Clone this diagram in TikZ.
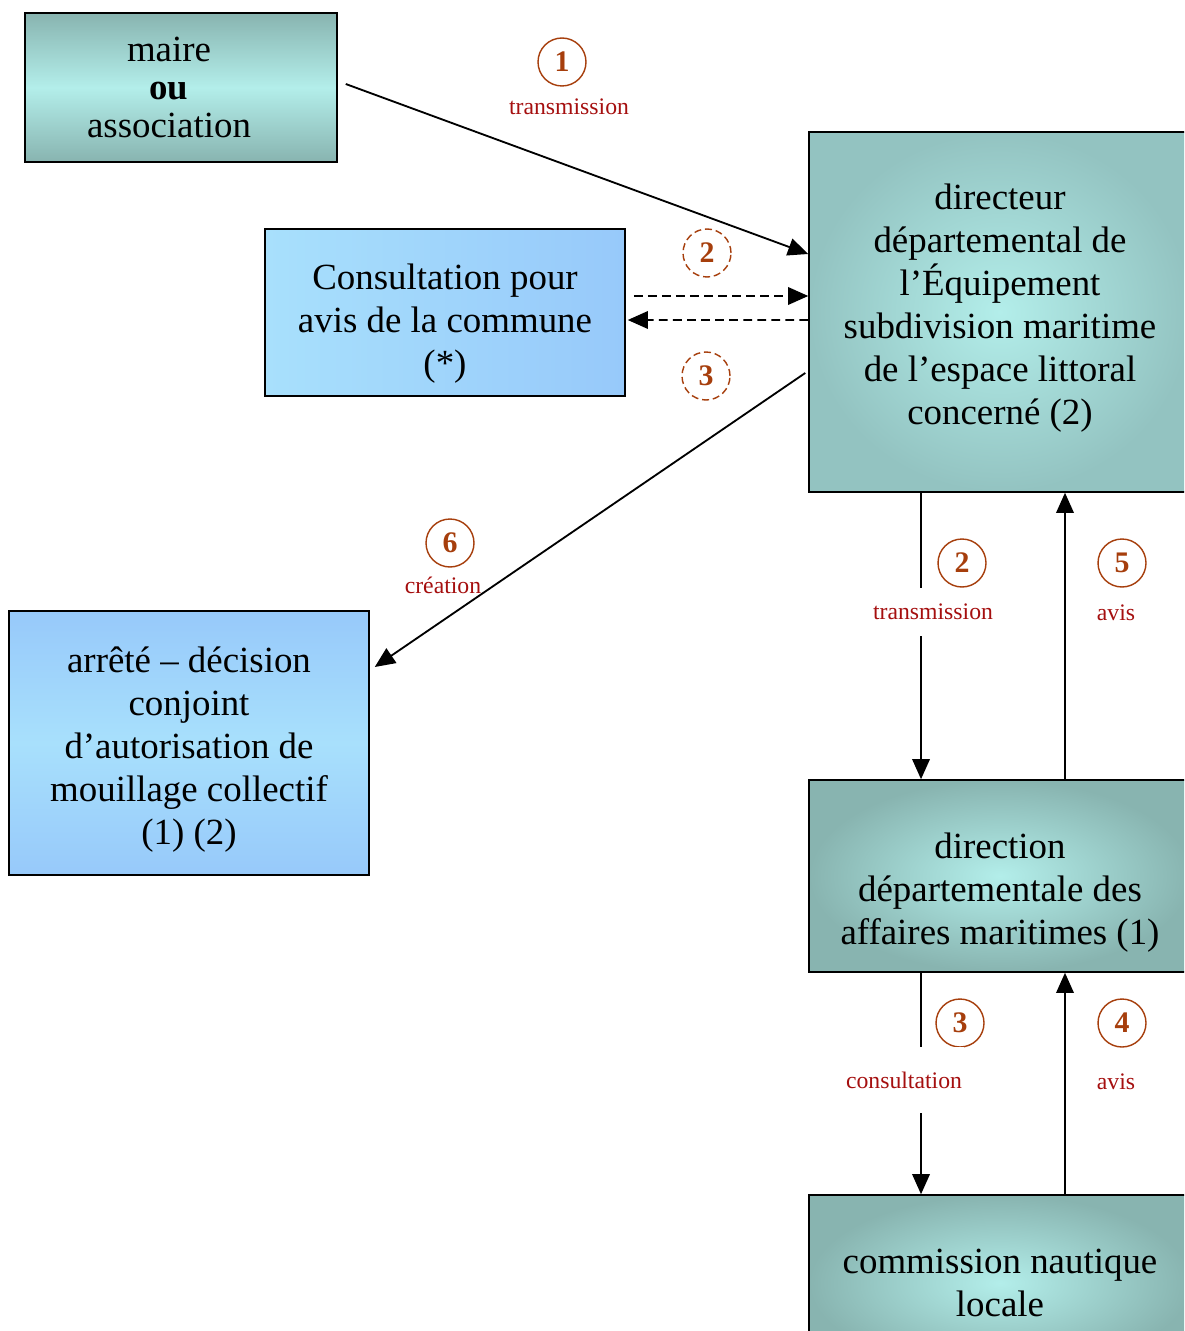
\documentclass[tikz,border=0pt]{standalone}
\usepackage{fontspec}
\setmainfont{Liberation Serif}
\usepackage{tikz}
\usepackage{xcolor}
\usetikzlibrary{arrows.meta}

\definecolor{tealdark}{HTML}{88B4B0}
\definecolor{teallight}{HTML}{B3EEEA}
\definecolor{tealout}{HTML}{93C3C1}
\definecolor{bluelight}{HTML}{A8E0FC}
\definecolor{bluedark}{HTML}{97C9FA}
\definecolor{numcol}{HTML}{A63E0C}
\definecolor{lblcol}{HTML}{A50F0F}

% espace invisible pour decaler le texte dans une boite
\newcommand{\haut}[1]{\rule{0pt}{#1}}
\newcommand{\bas}[1]{\rule[-#1]{0pt}{#1}}
\newcommand{\gauche}[1]{\mbox{#1\hspace{0.48cm}}}

\begin{document}
\begin{tikzpicture}[x=0.02cm,y=-0.02cm,>={Triangle[length=11.5pt,width=10pt]},
    box/.style={draw,line width=0.9pt,align=center,inner sep=0pt,
        font=\fontsize{21}{24.5}\selectfont},
    num/.style={circle,draw=numcol,text=numcol,line width=0.8pt,
        minimum size=0.96cm,inner sep=0pt,font=\fontsize{17}{17}\selectfont\bfseries},
    numdash/.style={num,dash pattern=on 4pt off 2.2pt},
    lbl/.style={text=lblcol,inner sep=1pt,font=\fontsize{13.5}{14}\selectfont},
    link/.style={->,line width=1.05pt},
    linkdash/.style={link,dash pattern=on 5pt off 3pt}]
    \useasboundingbox (0,0) rectangle (1184,1331);
    \clip (0,0) rectangle (1184,1331);

    % boites
    \node[box,minimum width=6.24cm,minimum height=2.98cm,
        top color=tealdark,bottom color=tealdark,middle color=teallight]
        (maire) at (181,87.5) {\gauche{maire}\\[-3pt]\gauche{\bfseries ou}\\[-3pt]\gauche{association}};
    \node[box,minimum width=7.2cm,minimum height=3.34cm,
        left color=bluelight,right color=bluedark]
        (cons) at (445,312.5) {\haut{26.8pt}Consultation pour\\avis de la commune\\(*)};
    \node[box,minimum width=7.2cm,minimum height=5.28cm,
        top color=bluedark,bottom color=bluedark,middle color=bluelight]
        (arr) at (189,743) {\haut{22pt}arrêté -- décision\\conjoint\\d’autorisation de\\mouillage collectif\\(1) (2)};
    \node[box,minimum width=7.64cm,minimum height=7.2cm,
        inner color=teallight,outer color=tealout]
        (dir) at (1000,312) {directeur\\départemental de\\l’Équipement\\subdivision maritime\\de l’espace littoral\\concerné (2)\bas{9pt}};
    \node[box,minimum width=7.64cm,minimum height=3.84cm,
        inner color=teallight,outer color=tealdark]
        (dn) at (1000,876) {\haut{33.6pt}direction\\départementale des\\affaires maritimes (1)};
    \node[box,minimum width=7.64cm,minimum height=3.52cm,
        inner color=teallight,outer color=tealdark]
        (cnl) at (1000,1283) {commission nautique\\locale};

    % fleches
    \draw[link] ([shift={(8,-3.5)}]maire.east) -- ([shift={(0,-58)}]dir.west);
    \draw[linkdash] ([shift={(8,-16.5)}]cons.east) -- ([shift={(0,-16)}]dir.west);
    \draw[linkdash] ([shift={(0,8)}]dir.west) -- ([shift={(2,7.5)}]cons.east);
    \draw[link] ([shift={(-3,61)}]dir.west) -- ([shift={(5,-76)}]arr.east);
    \draw[link] ([xshift=-1.58cm]dir.south) -- ([xshift=-1.58cm]dn.north);
    \draw[link] ([xshift=1.3cm]dn.north) -- ([xshift=1.3cm]dir.south);
    \draw[link] ([xshift=-1.58cm]dn.south) -- ([xshift=-1.58cm]cnl.north);
    \draw[link] ([xshift=1.3cm]cnl.north) -- ([xshift=1.3cm]dn.south);

    % numeros et libelles
    \node[num] (n1) at (562,62) {1};
    \node[lbl] (t1) at (569,107) {transmission};
    \node[numdash] (n2a) at (707,253) {2};
    \node[numdash] (n3a) at (706,376) {3};
    \node[num] (n6) at (450,543) {6};
    \node[lbl] (t6) at (443,585) {création};
    \node[num] (n2) at (962,563) {2};
    \node[lbl,fill=white,inner ysep=9pt] (t2) at (933,612) {transmission};
    \node[num] (n5) at (1122,563) {5};
    \node[lbl] (t5) at (1116,613) {avis};
    \node[num] (n3) at (960,1023) {3};
    \node[lbl,fill=white,inner ysep=14pt] (t3) at (904,1080) {consultation};
    \node[num] (n4) at (1122,1023) {4};
    \node[lbl] (t4) at (1116,1082) {avis};
\end{tikzpicture}
\end{document}
